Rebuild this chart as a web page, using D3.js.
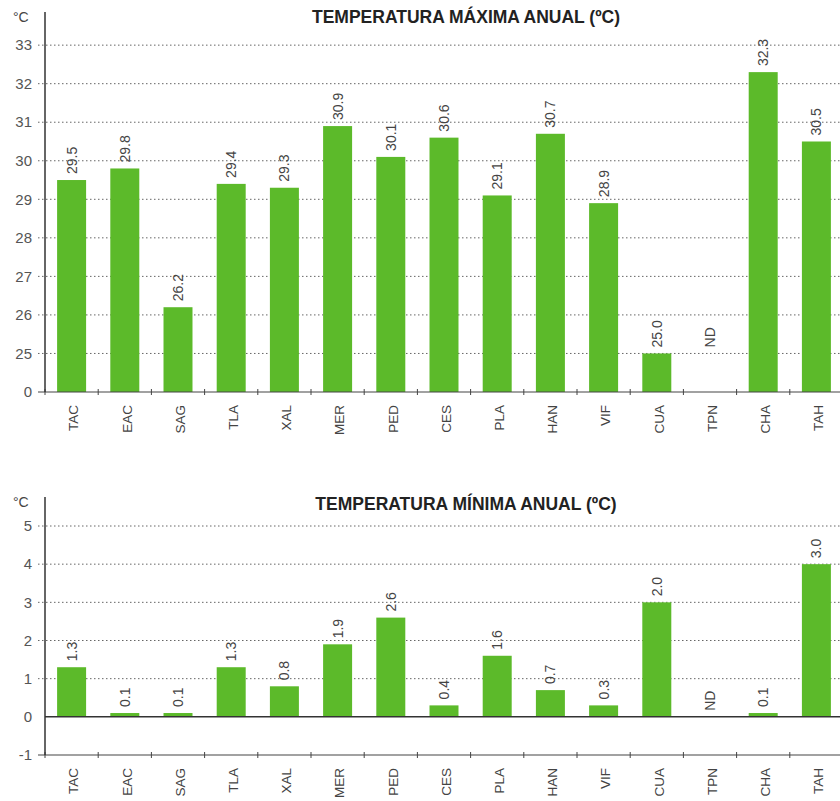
<!DOCTYPE html>
<html>
<head>
<meta charset="utf-8">
<script src="https://cdn.jsdelivr.net/npm/d3@7"></script>
<style>
  body { margin: 0; background: #fff; }
  svg { display: block; font-family: "Liberation Sans", Arial, sans-serif; }
</style>
</head>
<body>
<div id="chart"></div>
<script>
// stations (same order in both panels)
const stations = ["TAC", "EAC", "SAG", "TLA", "XAL", "MER", "PED", "CES", "PLA", "HAN", "VIF", "CUA", "TPN", "CHA", "TAH"];

// maximum annual temperature, null = no data
const maxTemp = [29.5, 29.8, 26.2, 29.4, 29.3, 30.9, 30.1, 30.6, 29.1, 30.7, 28.9, 25.0, null, 32.3, 30.5];
const maxLabels = ["29.5", "29.8", "26.2", "29.4", "29.3", "30.9", "30.1", "30.6", "29.1", "30.7", "28.9", "25.0", "ND", "32.3", "30.5"];
// the top axis is broken: its base is labelled 0
const maxTicks = [24, 25, 26, 27, 28, 29, 30, 31, 32, 33];
const maxTickLabels = ["0", "25", "26", "27", "28", "29", "30", "31", "32", "33"];

// minimum annual temperature
const minTemp = [1.3, 0.1, 0.1, 1.3, 0.8, 1.9, 2.6, 0.3, 1.6, 0.7, 0.3, 3.0, null, 0.1, 4.0];
const minLabels = ["1.3", "0.1", "0.1", "1.3", "0.8", "1.9", "2.6", "0.4", "1.6", "0.7", "0.3", "2.0", "ND", "0.1", "3.0"];
const minTicks = [-1, 0, 1, 2, 3, 4, 5];
const minTickLabels = ["-1", "0", "1", "2", "3", "4", "5"];

const width = 840, height = 801;
const green = "#5cba2a";

const svg = d3.select("#chart").append("svg")
    .attr("width", width)
    .attr("height", height);

// x scale shared by both panels
const x = d3.scaleBand()
    .domain(stations)
    .range([45, 843])
    .paddingInner(0.455)
    .paddingOuter(0.2275);

function drawPanel(opt) {
    const g = svg.append("g");
    const y = d3.scaleLinear().domain(opt.domain).range([opt.bottom, opt.top]);
    const base = opt.domain[0];

    // dotted gridlines
    g.selectAll(".grid")
        .data(opt.ticks.filter(t => t !== base && t !== opt.zero))
        .join("line")
        .attr("x1", 38).attr("x2", width)
        .attr("y1", d => y(d)).attr("y2", d => y(d))
        .attr("stroke", "#666")
        .attr("stroke-width", 1)
        .attr("stroke-dasharray", "1.5,2.5");

    // y tick labels
    g.selectAll(".ytick")
        .data(opt.ticks)
        .join("text")
        .attr("x", 32)
        .attr("y", d => y(d))
        .attr("dy", "0.35em")
        .attr("text-anchor", "end")
        .attr("fill", "#555")
        .style("font-size", "15px")
        .text((d, i) => opt.tickLabels[i]);

    // bars
    const bars = stations.map((s, i) => ({ s: s, v: opt.values[i], label: opt.labels[i] }));
    g.selectAll(".bar")
        .data(bars.filter(d => d.v !== null))
        .join("rect")
        .attr("x", d => x(d.s))
        .attr("width", x.bandwidth())
        .attr("y", d => y(Math.max(d.v, opt.zero)))
        .attr("height", d => Math.abs(y(d.v) - y(opt.zero)))
        .attr("fill", green);

    // value labels, rotated
    g.selectAll(".val")
        .data(bars)
        .join("text")
        .attr("transform", d => {
            const yy = d.v === null ? y(opt.ndAt) - 6 : y(d.v) - 6;
            return `translate(${x(d.s) + x.bandwidth() / 2}, ${yy}) rotate(-90)`;
        })
        .attr("dy", "0.35em")
        .attr("fill", "#444")
        .style("font-size", "14px")
        .text(d => d.label);

    // zero line (bottom panel only)
    if (opt.zero !== base) {
        g.append("line")
            .attr("x1", 45).attr("x2", width)
            .attr("y1", y(opt.zero)).attr("y2", y(opt.zero))
            .attr("stroke", "#333")
            .attr("stroke-width", 1.5);
    }

    // x axis with boundary ticks
    g.append("line")
        .attr("x1", 38).attr("x2", width)
        .attr("y1", y(base)).attr("y2", y(base))
        .attr("stroke", "#444")
        .attr("stroke-width", 1.2);
    g.selectAll(".xtick")
        .data(stations)
        .join("line")
        .attr("x1", d => x(d) - x.step() * x.paddingInner() / 2)
        .attr("x2", d => x(d) - x.step() * x.paddingInner() / 2)
        .attr("y1", y(base) - 3).attr("y2", y(base) + 3)
        .attr("stroke", "#444");

    // y axis line
    g.append("line")
        .attr("x1", 45).attr("x2", 45)
        .attr("y1", opt.top).attr("y2", y(base))
        .attr("stroke", "#333")
        .attr("stroke-width", 1.5);

    // category labels
    g.selectAll(".cat")
        .data(stations)
        .join("text")
        .attr("transform", d => `translate(${x(d) + x.bandwidth() / 2 + 2}, ${y(base) + 13}) rotate(-90)`)
        .attr("dy", "0.35em")
        .attr("text-anchor", "end")
        .attr("fill", "#444")
        .style("font-size", "13.5px")
        .text(d => d);

    // unit
    g.append("text")
        .attr("x", 13).attr("y", opt.top + 10)
        .attr("fill", "#444")
        .style("font-size", "14px")
        .text("°C");

    // title
    g.append("text")
        .attr("x", 466).attr("y", opt.titleY)
        .attr("text-anchor", "middle")
        .attr("fill", "#222")
        .style("font-size", "17.5px")
        .style("font-weight", "bold")
        .text(opt.title);
}

drawPanel({
    values: maxTemp, labels: maxLabels,
    ticks: maxTicks, tickLabels: maxTickLabels,
    domain: [24, 33.86], zero: 24, ndAt: 25,
    top: 12, bottom: 392, titleY: 23,
    title: "TEMPERATURA MÁXIMA ANUAL (ºC)"
});

drawPanel({
    values: minTemp, labels: minLabels,
    ticks: minTicks, tickLabels: minTickLabels,
    domain: [-1, 5.76], zero: 0, ndAt: 0,
    top: 497, bottom: 755, titleY: 510,
    title: "TEMPERATURA MÍNIMA ANUAL (ºC)"
});
</script>
</body>
</html>
